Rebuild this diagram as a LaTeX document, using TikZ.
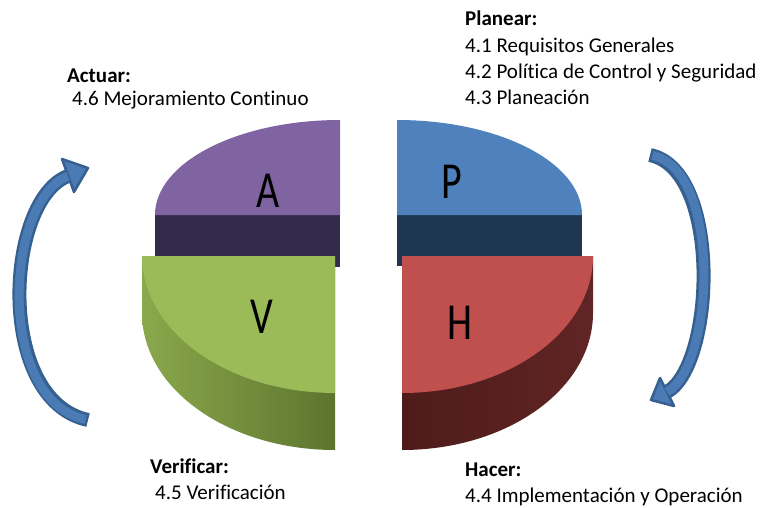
\documentclass[tikz,border=0pt]{standalone}
\usepackage{fontspec}
\setmainfont{Carlito}[Ligatures=NoCommon]
\usepackage{xcolor}

\definecolor{atop}{HTML}{8064A2}
\definecolor{aside}{HTML}{342A49}
\definecolor{ptop}{HTML}{4F81BD}
\definecolor{pside}{HTML}{1F3652}
\definecolor{vtop}{HTML}{9BBB59}
\definecolor{vsideL}{HTML}{8AA84C}
\definecolor{vsideR}{HTML}{5C752E}
\definecolor{htop}{HTML}{C0504D}
\definecolor{hsideL}{HTML}{4E1B1B}
\definecolor{hsideR}{HTML}{602524}
\definecolor{cycfill}{HTML}{4A7BB5}
\definecolor{cycedge}{HTML}{36608F}

\begin{document}
\begin{tikzpicture}[x=1pt,y=-1pt]
\tikzstyle{heading} = [anchor=base west, inner sep=0pt, font=\fontsize{21}{25}\selectfont\bfseries]
\tikzstyle{item} = [anchor=base west, inner sep=0pt, font=\fontsize{21}{25}\selectfont]
\tikzstyle{letter} = [inner sep=0pt, font=\fontsize{40}{40}\selectfont]
\tikzstyle{arrowedge} = [line width=14pt, draw=cycedge]
\tikzstyle{arrowbody} = [line width=9pt, draw=cycfill]
\tikzstyle{arrowhead} = [fill=cycfill, draw=cycedge, line width=2.5pt, line join=round]

\useasboundingbox (0,0) rectangle (762,507);

% A (back left)
\fill[aside] (155,215) rectangle (340,267);
\fill[atop] (340,215) -- (155,215) arc[start angle=180, end angle=270, x radius=185, y radius=95] -- cycle;

% P (back right)
\fill[pside] (397,215) rectangle (582,266);
\fill[ptop] (397,215) -- (397,120) arc[start angle=270, end angle=360, x radius=185, y radius=95] -- cycle;

% V (front left)
\shade[left color=vsideL, right color=vsideR] (142,256) -- (335,256) -- (335,450)
  arc[start angle=90, end angle=180, x radius=193, y radius=137] -- cycle;
\fill[vtop] (335,256) -- (142,256) arc[start angle=180, end angle=90, x radius=193, y radius=137] -- cycle;

% H (front right)
\shade[left color=hsideL, right color=hsideR] (402,256) -- (593,256) -- (593,313)
  arc[start angle=0, end angle=90, x radius=191, y radius=137] -- cycle;
\fill[htop] (402,256) -- (593,256) arc[start angle=0, end angle=90, x radius=191, y radius=137] -- cycle;

\node (letA) [letter] at (268,191) {\scalebox{1}[1.3]{A}};
\node (letP) [letter] at (452,182) {\scalebox{1}[1.3]{P}};
\node (letV) [letter] at (262,317) {\scalebox{1}[1.3]{V}};
\node (letH) [letter] at (460,323) {\scalebox{1}[1.3]{H}};

% cycle arrows
\coordinate (ltail) at (88,420);
\coordinate (lend) at (68,176);
\draw[arrowedge] (ltail) .. controls (-5,400) and (5,200) .. (lend);
\filldraw[arrowhead] (62,159) -- (88,168) -- (74,192) -- cycle;
\draw[arrowbody, shorten <=2.5pt] (ltail) .. controls (-5,400) and (5,200) .. (lend);

\coordinate (rtail) at (650,155);
\coordinate (rend) at (667,392);
\draw[arrowedge] (rtail) .. controls (722,170) and (715,365) .. (rend);
\filldraw[arrowhead] (660,378) -- (651,400) -- (674,406) -- cycle;
\draw[arrowbody, shorten <=2.5pt] (rtail) .. controls (722,170) and (715,365) .. (rend);

% labels
\node (planear) [heading] at (465,25) {Planear:};
\node (plan1) [item] at (465,52) {4.1 Requisitos Generales};
\node (plan2) [item] at (465,78) {4.2 Política de Control y Seguridad};
\node (plan3) [item] at (465,104) {4.3 Planeación};

\node (actuar) [heading] at (67,82) {Actuar:};
\node (act1) [item] at (72,105) {4.6 Mejoramiento Continuo};

\node (verificar) [heading] at (150,473) {Verificar:};
\node (ver1) [item] at (155,499) {4.5 Verificación};

\node (hacer) [heading] at (465,476) {Hacer:};
\node (hac1) [item] at (465,502) {4.4 Implementación y Operación};
\end{tikzpicture}
\end{document}
